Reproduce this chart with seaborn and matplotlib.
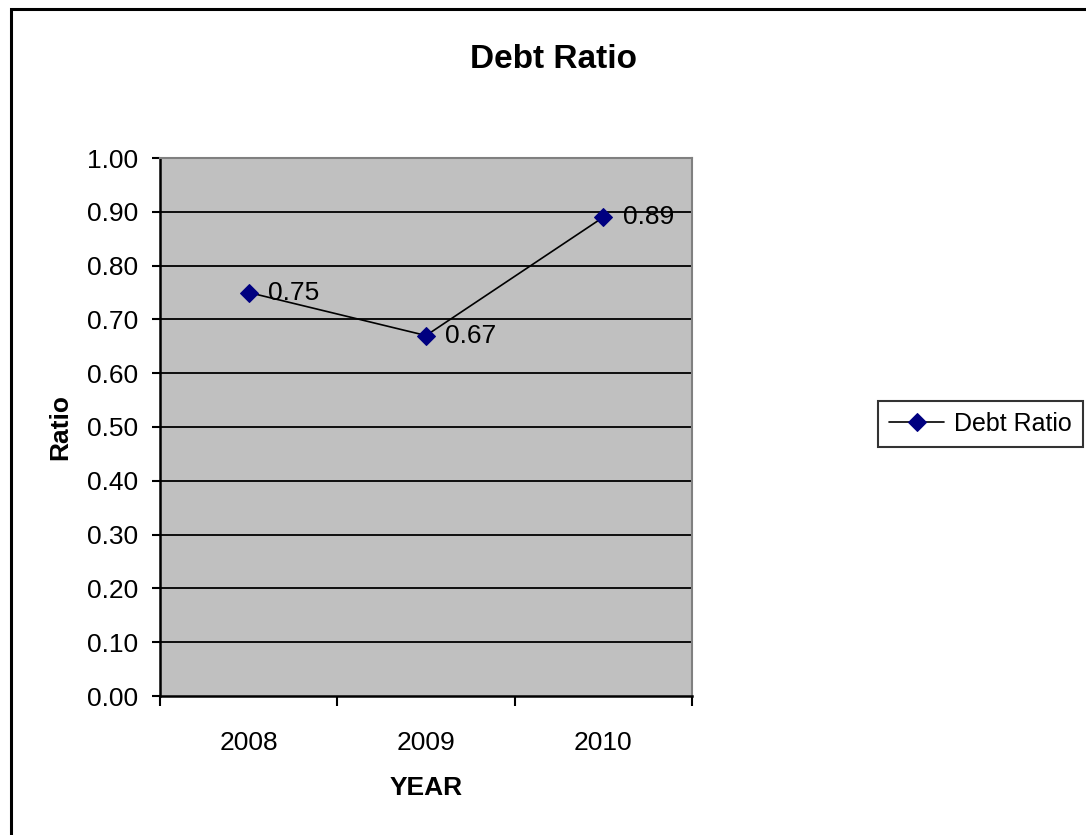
import matplotlib
matplotlib.use("Agg")
import matplotlib.pyplot as plt
import matplotlib.patches as mpatches
from matplotlib.ticker import FixedLocator
import pandas as pd
import seaborn as sns

# Debt ratio by year
years = ["2008", "2009", "2010"]
debt_ratio = [0.75, 0.67, 0.89]
series_name = "Debt Ratio"
y_ticks = [0.0, 0.1, 0.2, 0.3, 0.4, 0.5, 0.6, 0.7, 0.8, 0.9, 1.0]

sns.set_theme(style="white")
plt.rcParams["font.family"] = ["Liberation Sans", "DejaVu Sans"]
plt.rcParams["text.color"] = "black"
plt.rcParams["axes.labelcolor"] = "black"
plt.rcParams["xtick.color"] = "black"
plt.rcParams["ytick.color"] = "black"

df = pd.DataFrame({"YEAR": years, "Ratio": debt_ratio})

fig = plt.figure(figsize=(10.86, 8.35), dpi=100)
ax = fig.add_axes([160 / 1086, 1 - 696 / 835, (692 - 160) / 1086, (696 - 158) / 835])
ax.set_facecolor("#C0C0C0")

# horizontal gridlines at every 0.10
for yv in y_ticks[1:-1]:
    ax.axhline(yv, color="black", lw=1.3, zorder=1)

sns.lineplot(data=df, x="YEAR", y="Ratio", ax=ax, color="black", lw=1.2,
             marker="D", markersize=9, markerfacecolor="#000080",
             markeredgecolor="#000080", label=series_name, zorder=3,
             legend=False)

# value labels to the right of each point
for i, v in enumerate(debt_ratio):
    ax.annotate(f"{v:.2f}", (i, v), xytext=(14, 0), textcoords="offset points",
                ha="left", va="center", fontsize=19, color="black", zorder=4)

ax.set_xlim(-0.5, 2.5)
ax.set_ylim(0, 1.0)
ax.set_yticks(y_ticks)
ax.set_yticklabels([f"{t:.2f}" for t in y_ticks])
ax.set_xticks(range(len(years)))
ax.set_xticklabels(years)
ax.xaxis.set_minor_locator(FixedLocator([-0.5, 0.5, 1.5, 2.5]))
ax.tick_params(axis="x", which="major", length=0, pad=25, labelsize=19)
ax.tick_params(axis="x", which="minor", length=7, width=1.5, color="black",
               direction="out", bottom=True)
ax.tick_params(axis="y", which="major", length=6, width=1.5, color="black",
               direction="out", left=True, pad=10, labelsize=19)

for side in ["left", "bottom"]:
    ax.spines[side].set_color("black")
    ax.spines[side].set_linewidth(1.8)
for side in ["top", "right"]:
    ax.spines[side].set_color("#808080")
    ax.spines[side].set_linewidth(1.5)
    ax.spines[side].set_visible(True)

ax.set_xlabel("YEAR", fontsize=19, fontweight="bold")
ax.xaxis.set_label_coords(0.5, (696 - 788) / (696 - 158), transform=ax.transAxes)
ax.set_ylabel("Ratio", fontsize=19, fontweight="bold")
ax.yaxis.set_label_coords((60 - 160) / (692 - 160), 0.5, transform=ax.transAxes)
ax.xaxis.label.set_va("center")
ax.yaxis.label.set_va("center")

fig.text(553 / 1086, 1 - 60 / 835, "Debt Ratio", ha="center", va="center",
         fontsize=24, fontweight="bold", color="black")

handles, labels = ax.get_legend_handles_labels()
leg = fig.legend(handles, labels, loc="center left",
                 bbox_to_anchor=(878 / 1086, 1 - 424 / 835),
                 fontsize=18, frameon=True, fancybox=False, borderaxespad=0,
                 borderpad=0.45, handlelength=2.2, handletextpad=0.4)
leg.get_frame().set_edgecolor("black")
leg.get_frame().set_linewidth(1.5)

# outer chart border
border = mpatches.Rectangle((11 / 1086, -0.1), 1.2, 1.1 - 9 / 835,
                            transform=fig.transFigure, fill=False,
                            edgecolor="black", lw=2.2, clip_on=False)
fig.patches.append(border)

fig.savefig("out.png", dpi=100, facecolor="white")
